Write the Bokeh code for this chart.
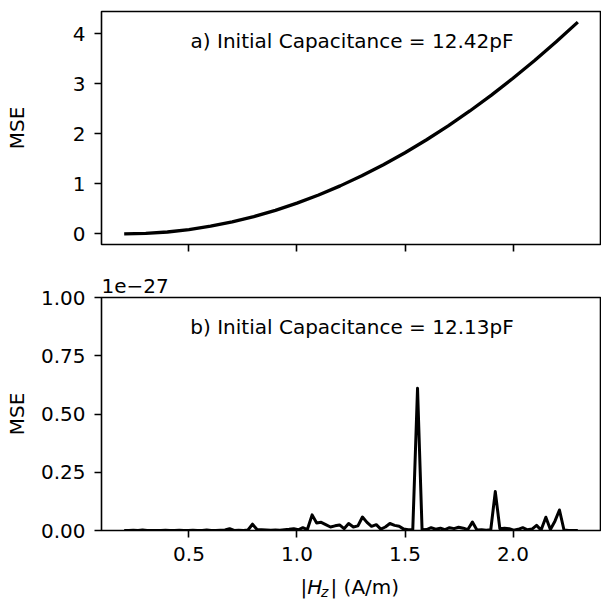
import math
from bokeh.plotting import figure
from bokeh.layouts import column
from bokeh.models import (Range1d, FixedTicker, NumeralTickFormatter, BasicTickFormatter,
                          Label, Title)
from bokeh.embed import file_html
from bokeh.resources import INLINE

# ---------------- data ----------------
H_A = [0.2, 0.3, 0.4, 0.5, 0.6, 0.7, 0.8, 0.9, 1.0, 1.1, 1.2, 1.3, 1.4, 1.5,
       1.6, 1.7, 1.8, 1.9, 2.0, 2.1, 2.2, 2.3]
MSE_A = [0.000, 0.010, 0.038, 0.086, 0.154, 0.240, 0.346, 0.471, 0.615, 0.778,
         0.961, 1.163, 1.384, 1.624, 1.884, 2.162, 2.460, 2.777, 3.114, 3.469,
         3.844, 4.238]

H_B = [0.200, 0.221, 0.242, 0.264, 0.285, 0.306, 0.327, 0.348, 0.370, 0.391,
       0.412, 0.433, 0.455, 0.476, 0.497, 0.518, 0.539, 0.561, 0.582, 0.603,
       0.624, 0.645, 0.667, 0.688, 0.709, 0.730, 0.752, 0.773, 0.794, 0.815,
       0.836, 0.858, 0.879, 0.900, 0.921, 0.942, 0.964, 0.985, 1.006, 1.027,
       1.048, 1.070, 1.091, 1.112, 1.133, 1.155, 1.176, 1.197, 1.218, 1.239,
       1.261, 1.282, 1.303, 1.324, 1.345, 1.367, 1.388, 1.409, 1.430, 1.452,
       1.473, 1.494, 1.515, 1.536, 1.558, 1.579, 1.600, 1.621, 1.642, 1.664,
       1.685, 1.706, 1.727, 1.748, 1.770, 1.791, 1.812, 1.833, 1.855, 1.876,
       1.897, 1.918, 1.939, 1.961, 1.982, 2.003, 2.024, 2.045, 2.067, 2.088,
       2.109, 2.130, 2.152, 2.173, 2.194, 2.215, 2.236, 2.258, 2.279, 2.300]
# values in units of 1e-27
MSE_B = [0, 0, 0.001, 0, 0.002, 0, 0, 0, 0, 0.001,
         0, 0, 0.001, 0, 0, 0.001, 0, 0, 0.002, 0,
         0, 0.001, 0.002, 0.008, 0, 0.001, 0, 0.002, 0.027, 0.004,
         0.003, 0.002, 0.001, 0.002, 0.001, 0.003, 0.005, 0.008, 0.003, 0.012,
         0.004, 0.067, 0.032, 0.035, 0.025, 0.015, 0.020, 0.024, 0.008, 0.030,
         0.015, 0.020, 0.058, 0.035, 0.018, 0.025, 0.006, 0.015, 0.030, 0.022,
         0.018, 0.006, 0.003, 0.004, 0.610, 0.003, 0.004, 0.012, 0.006, 0.010,
         0.004, 0.012, 0.008, 0.014, 0.010, 0.004, 0.036, 0.002, 0.003, 0.001,
         0.003, 0.167, 0.008, 0.010, 0.008, 0.001, 0.005, 0.012, 0.003, 0.006,
         0.022, 0.002, 0.057, 0.004, 0.040, 0.088, 0.002, 0, 0, 0]
OFFSET_TEXT_B = "1e\u221227"

TITLE_A = "a) Initial Capacitance = 12.42pF"
TITLE_B = "b) Initial Capacitance = 12.13pF"
Y_LABEL = "MSE"
X_TICKS = [0.5, 1.0, 1.5, 2.0]
YA_TICKS = [0, 1, 2, 3, 4]
YB_TICKS = [0.0, 0.25, 0.5, 0.75, 1.0]

FONT = "DejaVu Sans"
FS = "20px"
FW, FH = 499, 233


def style(p, yticks, yfmt, show_xlabels, ylabel_standoff):
    p.xgrid.visible = False
    p.ygrid.visible = False
    p.background_fill_color = "white"
    p.border_fill_color = "white"
    p.outline_line_color = "black"
    p.outline_line_width = 1.6
    p.outline_line_alpha = 1.0
    p.xaxis.ticker = FixedTicker(ticks=X_TICKS, minor_ticks=[])
    p.yaxis.ticker = FixedTicker(ticks=yticks, minor_ticks=[])
    p.xaxis.formatter = NumeralTickFormatter(format="0.0")
    p.yaxis.formatter = yfmt
    for ax in (p.xaxis, p.yaxis):
        ax.axis_line_color = None
        ax.major_tick_out = 7
        ax.major_tick_in = 0
        ax.minor_tick_out = 0
        ax.minor_tick_in = 0
        ax.major_tick_line_color = "black"
        ax.major_tick_line_width = 1.6
        ax.major_label_text_font = FONT
        ax.major_label_text_font_size = FS
        ax.major_label_text_color = "black"
    p.yaxis.major_label_standoff = 9
    p.yaxis.axis_label = Y_LABEL
    p.yaxis.axis_label_text_font = FONT
    p.yaxis.axis_label_text_font_size = FS
    p.yaxis.axis_label_text_font_style = "normal"
    p.yaxis.axis_label_text_color = "black"
    p.yaxis.axis_label_standoff = ylabel_standoff
    if show_xlabels:
        p.xaxis.major_label_standoff = 9
    else:
        p.xaxis.major_label_overrides = {t: "" for t in X_TICKS}
        p.xaxis.major_label_standoff = 0


def add_text(p, x, y, text, align="left", baseline="alphabetic", size=FS,
             style_="normal"):
    p.add_layout(Label(x=x, y=y, x_units="screen", y_units="screen", text=text,
                       text_font=FONT, text_font_size=size, text_font_style=style_,
                       text_color="black", text_align=align, text_baseline=baseline))


# ---------------- top panel ----------------
p1 = figure(frame_width=FW, frame_height=FH, min_border_left=101, min_border_right=1,
            min_border_top=11, min_border_bottom=26,
            x_range=Range1d(0.095, 2.405), y_range=Range1d(-0.212, 4.45),
            output_backend="svg", toolbar_location=None)
style(p1, YA_TICKS, BasicTickFormatter(), False, 41)
p1.line(H_A, MSE_A, line_color="black", line_width=3.3, line_join="round")
add_text(p1, 250.5, FH - 29.3, TITLE_A, align="center")

# ---------------- bottom panel ----------------
p2 = figure(frame_width=FW, frame_height=FH, min_border_left=101, min_border_right=1,
            min_border_top=27, min_border_bottom=40,
            x_range=Range1d(0.095, 2.405), y_range=Range1d(0.0, 1.0),
            output_backend="svg", toolbar_location=None)
style(p2, YB_TICKS, NumeralTickFormatter(format="0.00"), True, 9)
p2.line(H_B, MSE_B, line_color="black", line_width=3.0, line_join="round")
add_text(p2, 250.5, FH - 29.3, TITLE_B, align="center")
p2.add_layout(Title(text=OFFSET_TEXT_B, align="left", offset=0, standoff=9,
                    text_font=FONT, text_font_size=FS, text_font_style="normal",
                    text_color="black"), "above")

# ---------------- x-axis label strip: |H_z| (A/m) ----------------
p3 = figure(frame_width=601, frame_height=30, min_border=0, min_border_left=0,
            min_border_right=0, min_border_top=0, min_border_bottom=0,
            x_axis_type=None, y_axis_type=None,
            x_range=Range1d(0, 1), y_range=Range1d(0, 1),
            output_backend="svg", toolbar_location=None)
p3.outline_line_color = None
p3.xgrid.visible = False
p3.ygrid.visible = False
p3.border_fill_color = "white"
yb = 13.4
x0 = 199
add_text(p3, x0, yb, "|")
add_text(p3, x0 + 6.7, yb, "H", style_="italic")
add_text(p3, x0 + 20.5, yb - 4.5, "z", size="14px", style_="italic")
add_text(p3, x0 + 30, yb, "| (A/m)")

layout = column(p1, p2, p3)
open("out.html", "w").write(file_html(layout, INLINE))
